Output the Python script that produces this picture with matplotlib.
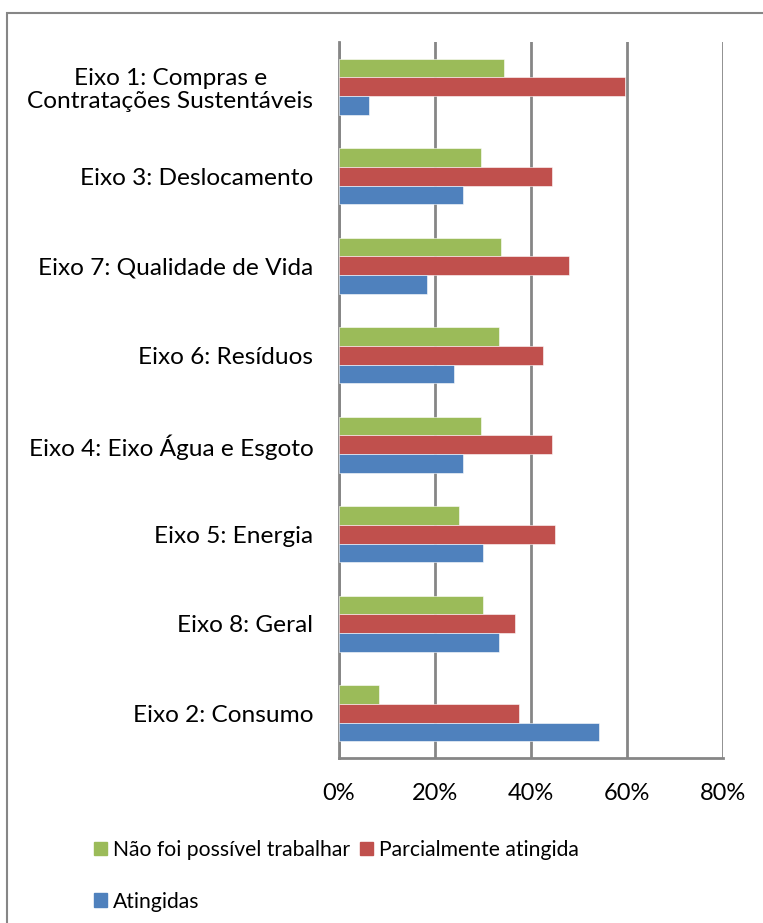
import matplotlib
matplotlib.use("Agg")
import matplotlib.pyplot as plt
from matplotlib.patches import Rectangle, Patch
import numpy as np

# Categories from bottom to top
categories = ['Eixo 2: Consumo', 'Eixo 8: Geral', 'Eixo 5: Energia',
              'Eixo 4: Eixo Água e Esgoto', 'Eixo 6: Resíduos',
              'Eixo 7: Qualidade de Vida', 'Eixo 3: Deslocamento',
              'Eixo 1: Compras e\nContratações Sustentáveis']
nao_foi = [8.3, 29.9, 24.9, 29.6, 33.3, 33.75, 29.6, 34.4]
parcial = [37.6, 36.7, 45.0, 44.4, 42.6, 47.9, 44.4, 59.5]
atingidas = [54.2, 33.3, 29.9, 25.9, 24.0, 18.3, 25.9, 6.2]
xticks = [0, 20, 40, 60, 80]

GREEN = '#9BBB59'
RED = '#C0504D'
BLUE = '#4F81BD'
GRID = '#868686'

plt.rcParams['font.family'] = ['Lato', 'DejaVu Sans']

fig = plt.figure(figsize=(7.63, 9.23), dpi=100)
ax = fig.add_axes([339 / 763, 1 - 758 / 923, 384 / 763, 716 / 923])

# outer frame of the chart area
fig.patches.append(Rectangle((7 / 763, -0.05), 1.2, 1 - 13 / 923 + 0.05,
                             transform=fig.transFigure, fill=False,
                             edgecolor=GRID, linewidth=1.5))

y = np.arange(len(categories))
h = 0.209
ax.barh(y + h, nao_foi, height=h, color=GREEN, edgecolor='white', linewidth=0.4, zorder=3)
ax.barh(y, parcial, height=h, color=RED, edgecolor='white', linewidth=0.4, zorder=3)
ax.barh(y - h, atingidas, height=h, color=BLUE, edgecolor='white', linewidth=0.4, zorder=3)

ax.set_xlim(0, 80)
ax.set_ylim(-0.5, len(categories) - 0.5)
ax.set_xticks(xticks)
ax.set_xticklabels([f'{t}%' for t in xticks])
ax.set_yticks(y)
ax.set_yticklabels(categories, multialignment='center', linespacing=1.15)
ax.tick_params(axis='x', length=0, pad=18, labelsize=17, colors='black')
ax.tick_params(axis='y', length=0, pad=18.5, labelsize=17.6)
ax.xaxis.grid(True, color=GRID, linewidth=2, zorder=0)
for s in ['top', 'right']:
    ax.spines[s].set_visible(False)
for s in ['left', 'bottom']:
    ax.spines[s].set_color(GRID)
    ax.spines[s].set_linewidth(2)

# legend laid out row-wise: green, red / blue
handles = [Patch(color=GREEN), Patch(color=BLUE), Patch(color=RED)]
labels = ['Não foi possível trabalhar', 'Atingidas', 'Parcialmente atingida']
fig.legend(handles, labels, ncol=2, loc='upper left',
           bbox_to_anchor=(94 / 763, 1 - 840 / 923), frameon=False,
           fontsize=15.2, handlelength=0.62, handleheight=0.62,
           handletextpad=0.3, columnspacing=0.45, labelspacing=1.5,
           borderaxespad=0, borderpad=0)

fig.savefig('out.png', dpi=100)
